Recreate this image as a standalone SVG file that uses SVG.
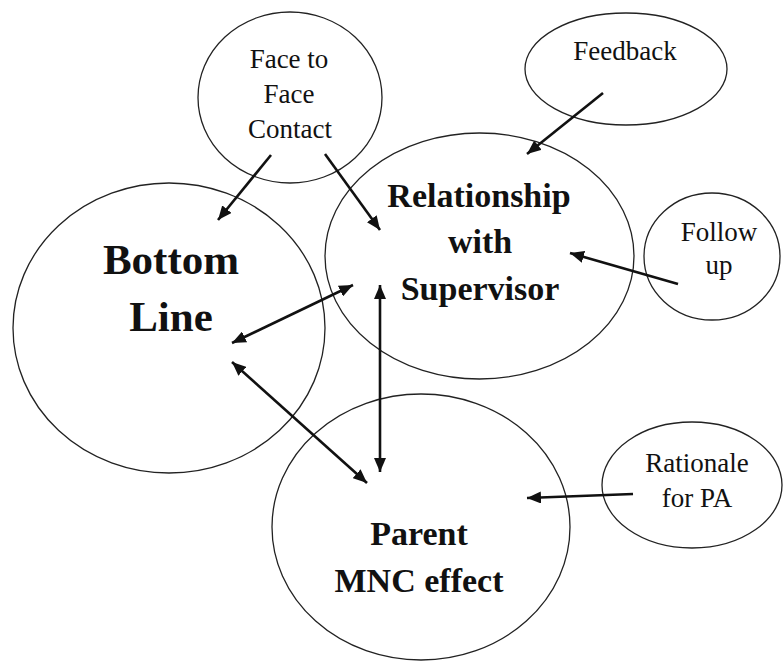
<svg xmlns="http://www.w3.org/2000/svg" width="783" height="663" viewBox="0 0 783 663">
<style>
  .node ellipse { fill: none; stroke: #222; stroke-width: 1.3; }
  .small { font-family: "Liberation Serif", "Times New Roman", serif; font-size: 27px; fill: #111; text-anchor: middle; }
  .big { font-family: "Liberation Serif", "Times New Roman", serif; font-size: 34px; font-weight: bold; fill: #111; text-anchor: middle; }
  .huge { font-family: "Liberation Serif", "Times New Roman", serif; font-size: 43px; font-weight: bold; fill: #111; text-anchor: middle; }
  .conn line { stroke: #111; stroke-width: 2.6; fill: none; }
  .one { marker-end: url(#ah); }
  .two { marker-end: url(#ah); marker-start: url(#ah); }
</style>
<defs>
  <marker id="ah" markerUnits="userSpaceOnUse" markerWidth="16" markerHeight="12" refX="14" refY="6" orient="auto-start-reverse" viewBox="0 0 16 12">
    <path d="M0,0 L14,6 L0,12 z" fill="#111"/>
  </marker>
</defs>
<rect width="783" height="663" fill="#fff"/>
<g id="face" class="node">
  <ellipse cx="290" cy="97.5" rx="92" ry="85.5"/>
  <text class="small" x="289" y="68">Face to</text>
  <text class="small" x="289" y="103">Face</text>
  <text class="small" x="290" y="138">Contact</text>
</g>
<g id="feedback" class="node">
  <ellipse cx="626" cy="69" rx="101" ry="56"/>
  <text class="small" x="625" y="60">Feedback</text>
</g>
<g id="relationship" class="node">
  <ellipse cx="479.5" cy="256" rx="154.5" ry="123"/>
  <text class="big" x="479" y="207">Relationship</text>
  <text class="big" x="480" y="253">with</text>
  <text class="big" x="480" y="300">Supervisor</text>
</g>
<g id="followup" class="node">
  <ellipse cx="712" cy="256.5" rx="68" ry="63.5"/>
  <text class="small" x="719" y="241">Follow</text>
  <text class="small" x="719" y="274">up</text>
</g>
<g id="bottomline" class="node">
  <ellipse cx="169" cy="328" rx="156" ry="145"/>
  <text class="huge" x="171" y="274">Bottom</text>
  <text class="huge" x="171" y="331">Line</text>
</g>
<g id="parent" class="node">
  <ellipse cx="421" cy="527" rx="149" ry="133"/>
  <text class="big" x="419" y="545">Parent</text>
  <text class="big" x="419" y="592">MNC effect</text>
</g>
<g id="rationale" class="node">
  <ellipse cx="692" cy="485" rx="90" ry="63"/>
  <text class="small" x="697" y="472">Rationale</text>
  <text class="small" x="697" y="507">for PA</text>
</g>
<g id="connectors" class="conn">
  <line class="one" x1="271" y1="155" x2="218" y2="220"/>
  <line class="one" x1="325" y1="154" x2="380" y2="230"/>
  <line class="one" x1="603" y1="93" x2="527" y2="154"/>
  <line class="one" x1="678" y1="284" x2="570" y2="253"/>
  <line class="two" x1="232" y1="343" x2="353" y2="285"/>
  <line class="two" x1="232" y1="362" x2="367" y2="483"/>
  <line class="two" x1="380" y1="285" x2="380" y2="472"/>
  <line class="one" x1="633" y1="494" x2="527" y2="498"/>
</g>
</svg>
